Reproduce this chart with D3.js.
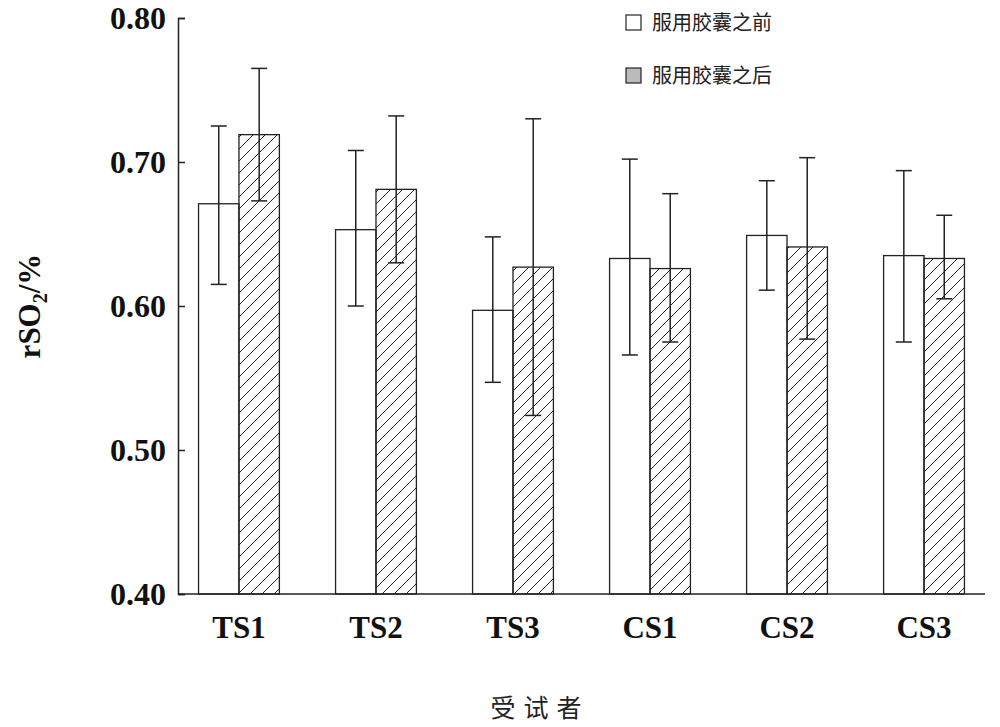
<!DOCTYPE html>
<html><head><meta charset="utf-8">
<script src="https://cdn.jsdelivr.net/npm/d3@7"></script>
<style>body{margin:0;background:#fff}</style>
</head><body><div id="chart"></div>
<script>
// data
var subjects = ["TS1", "TS2", "TS3", "CS1", "CS2", "CS3"];
var seriesNames = ["服用胶囊之前", "服用胶囊之后"];
var before = [0.671, 0.653, 0.597, 0.633, 0.649, 0.635];
var beforeHi = [0.725, 0.708, 0.648, 0.702, 0.687, 0.694];
var beforeLo = [0.615, 0.600, 0.547, 0.566, 0.611, 0.575];
var after = [0.719, 0.681, 0.627, 0.626, 0.641, 0.633];
var afterHi = [0.765, 0.732, 0.730, 0.678, 0.703, 0.663];
var afterLo = [0.673, 0.630, 0.524, 0.575, 0.577, 0.605];
var yTicks = [0.40, 0.50, 0.60, 0.70, 0.80];

var svgWidth = 1000, svgHeight = 727;
var margin = {top: 18, right: 15, bottom: 133, left: 178};
var chartWidth = svgWidth - margin.left - margin.right;
var chartHeight = svgHeight - margin.top - margin.bottom;

var svg = d3.select("#chart").append("svg")
    .attr("width", svgWidth).attr("height", svgHeight);
var g = svg.append("g").attr("transform", `translate(${margin.left},${margin.top})`);

var defs = svg.append("defs");
defs.append("pattern").attr("id", "hatch").attr("patternUnits", "userSpaceOnUse")
    .attr("width", 12).attr("height", 12)
    .append("path").attr("d", "M-3,15 L15,-3 M-3,3 L3,-3 M9,15 L15,9")
    .attr("stroke", "#222").attr("stroke-width", 1);

var x0 = d3.scaleBand().domain(subjects).range([0, chartWidth]).paddingInner(0.41).paddingOuter(0.15);
var x1 = d3.scaleBand().domain([0, 1]).range([0, x0.bandwidth()]);
var y = d3.scaleLinear().domain([0.40, 0.80]).range([chartHeight, 0]);

var rows = subjects.map((s, i) => [
    {s: s, k: 0, v: before[i], hi: beforeHi[i], lo: beforeLo[i]},
    {s: s, k: 1, v: after[i], hi: afterHi[i], lo: afterLo[i]}
]).flat();

g.selectAll("rect.bar").data(rows).enter().append("rect")
    .attr("x", d => x0(d.s) + x1(d.k))
    .attr("y", d => y(d.v))
    .attr("width", x1.bandwidth())
    .attr("height", d => chartHeight - y(d.v))
    .attr("fill", d => d.k ? "url(#hatch)" : "#fff")
    .attr("stroke", "#222").attr("stroke-width", 1.3);

var cap = 8;
rows.forEach(d => {
    var cx = x0(d.s) + x1(d.k) + x1.bandwidth() / 2;
    var eg = g.append("g").attr("stroke", "#222").attr("stroke-width", 1.5);
    eg.append("line").attr("x1", cx).attr("x2", cx).attr("y1", y(d.hi)).attr("y2", y(d.lo));
    eg.append("line").attr("x1", cx - cap).attr("x2", cx + cap).attr("y1", y(d.hi)).attr("y2", y(d.hi));
    eg.append("line").attr("x1", cx - cap).attr("x2", cx + cap).attr("y1", y(d.lo)).attr("y2", y(d.lo));
});

// axes
var leftAxis = d3.axisLeft(y).tickValues(yTicks).tickFormat(d3.format(".2f")).tickSize(-7).tickPadding(12);
var yAxis = g.append("g").call(leftAxis);
yAxis.selectAll("text").attr("font-family", "Liberation Serif").attr("font-size", 32)
    .attr("font-weight", "bold").attr("fill", "#111");
yAxis.selectAll("line,path").attr("stroke", "#222").attr("stroke-width", 1.5);

var bottomAxis = d3.axisBottom(x0).tickSize(0).tickPadding(22);
var xAxis = g.append("g").attr("transform", `translate(0,${chartHeight})`).call(bottomAxis);
xAxis.select("path").attr("d", `M0,0H${chartWidth}`).attr("stroke", "#222").attr("stroke-width", 1.5);
xAxis.selectAll("text").attr("font-family", "Liberation Serif").attr("font-size", 31)
    .attr("font-weight", "bold").attr("fill", "#111");

svg.append("text").attr("x", 540).attr("y", 717).attr("text-anchor", "middle")
    .attr("font-family", "Noto Sans CJK SC").attr("font-size", 25).attr("letter-spacing", 8)
    .attr("fill", "#222").text("受试者");

var yl = svg.append("text").attr("transform", "translate(40,306) rotate(-90)")
    .attr("text-anchor", "middle").attr("font-family", "Liberation Serif")
    .attr("font-size", 31).attr("font-weight", "bold").attr("fill", "#111");
yl.append("tspan").text("rSO");
yl.append("tspan").attr("font-size", 20).attr("dy", 7).text("2");
yl.append("tspan").attr("dy", -7).text("/%");

// legend
seriesNames.forEach((n, i) => {
    var ly = 23 + i * 53;
    svg.append("rect").attr("x", 626).attr("y", ly - 8).attr("width", 15).attr("height", 15)
        .attr("fill", i ? "#bbb" : "#fff").attr("stroke", "#222").attr("stroke-width", 1.2);
    svg.append("text").attr("x", 652).attr("y", ly + 7).attr("font-family", "Noto Sans CJK SC")
        .attr("font-size", 20).attr("fill", "#222").text(n);
});
</script>
</body></html>
